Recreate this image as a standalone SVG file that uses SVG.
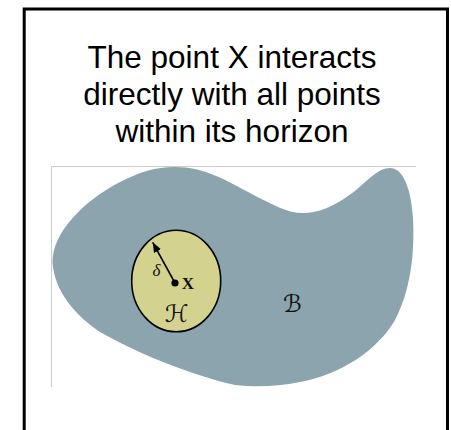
<svg xmlns="http://www.w3.org/2000/svg" width="451" height="430" viewBox="0 0 451 430">
<defs>
<style>
.title{font-family:"Liberation Sans",Arial,sans-serif;font-size:31.5px;fill:#000;text-anchor:middle}
.math{font-family:"Liberation Serif","DejaVu Serif",serif;fill:#111;text-anchor:middle}
.script{font-family:"DejaVu Sans","DejaVu Serif",serif;font-style:italic;fill:#111;text-anchor:middle}
</style>
<marker id="ah" viewBox="0 0 10 8" refX="10" refY="4" markerWidth="10" markerHeight="8" markerUnits="userSpaceOnUse" orient="auto">
<path d="M0,0 L10,4 L0,8 Z" fill="#000"/>
</marker>
</defs>
<rect x="0" y="0" width="451" height="430" fill="#fff"/>
<rect x="24.2" y="9" width="423.3" height="440" fill="none" stroke="#000" stroke-width="3"/>
<g id="title">
<text class="title" x="232" y="67.5">The point X interacts</text>
<text class="title" x="232" y="104.5">directly with all points</text>
<text class="title" x="232" y="141.5">within its horizon</text>
</g>
<g id="figure">
<path d="M51.5,166.5 H416 M51.5,166 V387" fill="none" stroke="#cccccc" stroke-width="1"/>
<g id="body">
<path d="M52.5,263 C52,232 85,200 120,182 C140,172 155,167 175,167 C205,167 225,180 250,193 C275,206 290,214 305,213 C325,212 340,202 355,191 C368,180 378,168 390,168 C403,168 411,188 413,218 C415,255 410,292 395,320 C378,350 340,375 300,382 C275,387 255,387 235,385 C190,375 135,352 100,332 C75,315 55,292 52.5,263 Z" fill="#8ba4ae"/>
<text class="script" x="292.5" y="312" font-size="24">ℬ</text>
</g>
<g id="horizon">
<ellipse cx="176.2" cy="281" rx="44.5" ry="50.7" fill="#d3d38f" stroke="#000" stroke-width="1.6"/>
<text class="script" x="176.5" y="322" font-size="24">ℋ</text>
</g>
<g id="point">
<line x1="175" y1="283" x2="152.7" y2="242.3" stroke="#000" stroke-width="1.6" marker-end="url(#ah)"/>
<circle cx="175" cy="283" r="3.6" fill="#000"/>
<text class="math" x="188" y="289" font-size="17" font-weight="bold">X</text>
<text class="math" x="156.5" y="275.5" font-size="17" font-style="italic">δ</text>
</g>
</g>
</svg>
